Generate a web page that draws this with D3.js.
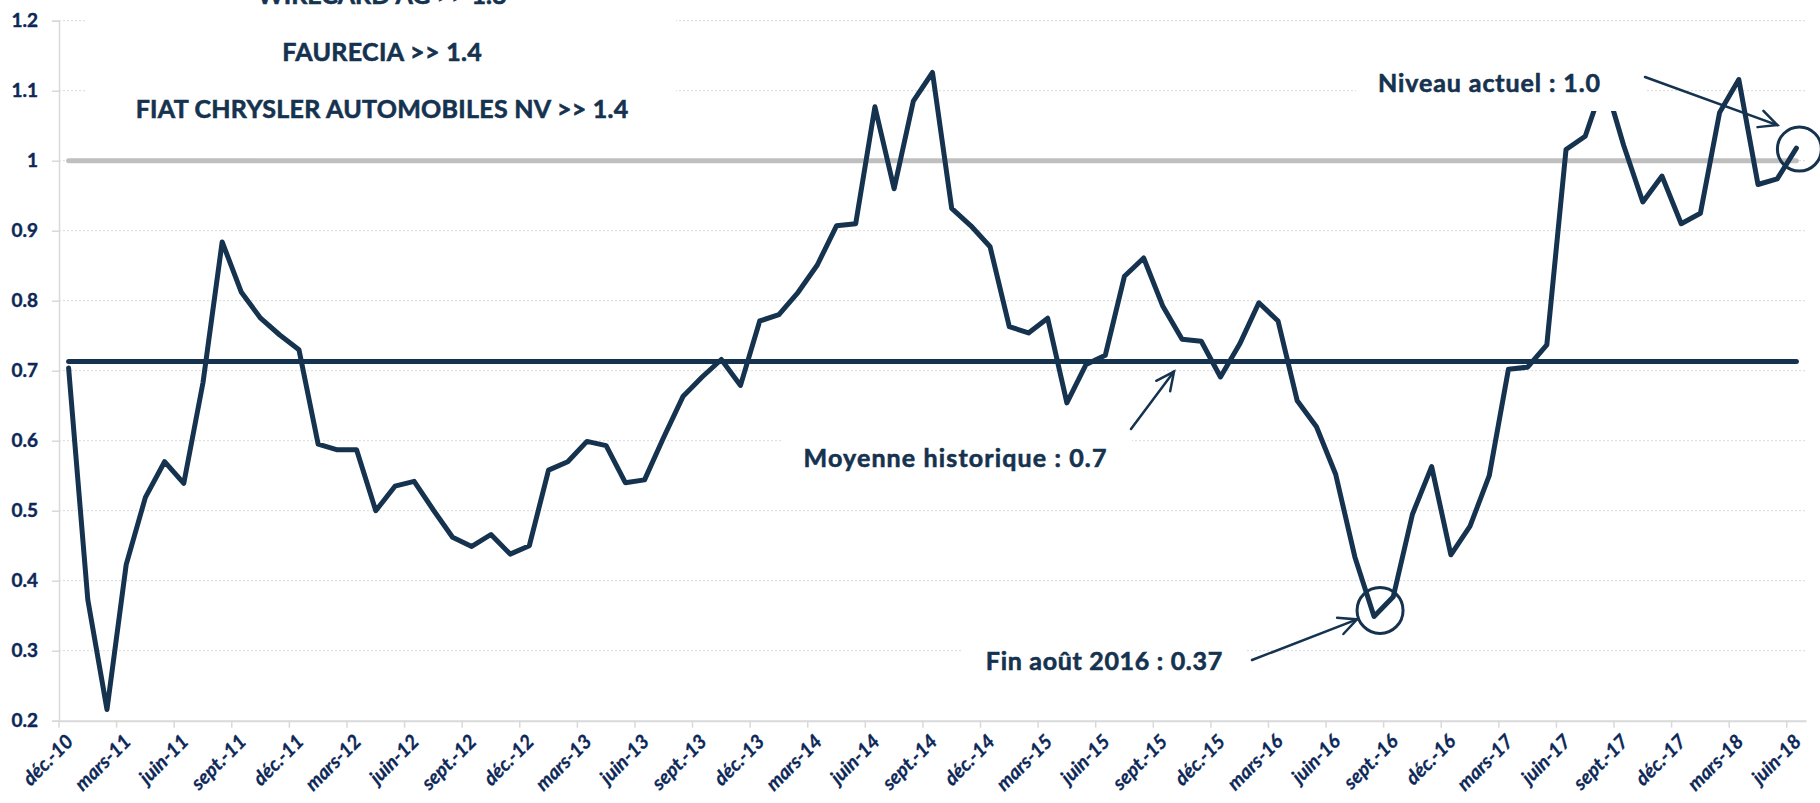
<!DOCTYPE html>
<html>
<head>
<meta charset="utf-8">
<script src="https://cdn.jsdelivr.net/npm/d3@7"></script>
<style>
  body { margin: 0; background: #fff; }
  svg { display: block; }
  text { font-family: Lato, "Open Sans", sans-serif; font-weight: 700; }
</style>
</head>
<body>
<div id="chart"></div>
<script>
// month names as Excel writes them in French (mmm-yy)
const monthNames = ["janv.", "févr.", "mars", "avr.", "mai", "juin", "juil.", "août", "sept.", "oct.", "nov.", "déc."];
const startMonth = 11, startYear = 10, nMonths = 91; // déc.-10 -> juin-18

// ratio, one value per month
const ratio = [
  0.704, 0.373, 0.216, 0.423, 0.519, 0.570, 0.539, 0.683, 0.884, 0.812,
  0.775, 0.751, 0.730, 0.595, 0.587, 0.587, 0.500, 0.535, 0.542, 0.501,
  0.462, 0.449, 0.466, 0.438, 0.450, 0.558, 0.570, 0.599, 0.593, 0.540,
  0.544, 0.605, 0.663, 0.691, 0.716, 0.679, 0.771, 0.780, 0.812, 0.851,
  0.907, 0.910, 1.077, 0.960, 1.085, 1.126, 0.932, 0.907, 0.877, 0.763,
  0.754, 0.775, 0.654, 0.709, 0.722, 0.835, 0.861, 0.792, 0.745, 0.742,
  0.691, 0.738, 0.797, 0.771, 0.657, 0.620, 0.552, 0.434, 0.349, 0.377,
  0.495, 0.563, 0.437, 0.478, 0.550, 0.702, 0.705, 0.737, 1.016, 1.035,
  1.115, 1.022, 0.941, 0.978, 0.910, 0.925, 1.069, 1.116, 0.966, 0.974,
  1.018
];

const historicalMean = 0.713;
const refLevel = 1.0;

const yTicks = [0.2, 0.3, 0.4, 0.5, 0.6, 0.7, 0.8, 0.9, 1.0, 1.1, 1.2];
const yTickLabels = ["0.2", "0.3", "0.4", "0.5", "0.6", "0.7", "0.8", "0.9", "1", "1.1", "1.2"];

const topLines = ["WIRECARD AG >> 1.8", "FAURECIA >> 1.4", "FIAT CHRYSLER AUTOMOBILES NV >> 1.4"];

// build the category labels
const categories = d3.range(nMonths).map(i => {
  const m = (startMonth + i) % 12;
  const yr = startYear + Math.floor((startMonth + i) / 12);
  return monthNames[m] + "-" + yr;
});

const width = 1820, height = 803;
const plotLeft = 59, plotRight = 1806, plotTop = 20.7, plotBottom = 720.7;
const navy = "#15324f", labelBlue = "#0d2858", gridGray = "#d9d9d9";

const svg = d3.select("#chart").append("svg")
  .attr("width", width)
  .attr("height", height);

const x = d3.scaleBand().domain(categories).range([plotLeft, plotRight]).padding(0);
const bw = x.bandwidth();
const cx = i => x(categories[i]) + bw / 2;

const y = d3.scaleLinear().domain([0.2, 1.2]).range([plotBottom, plotTop]);

// dotted gridlines
svg.append("g")
  .selectAll("line")
  .data(yTicks.slice(1))
  .join("line")
  .attr("x1", plotLeft).attr("x2", plotRight)
  .attr("y1", d => y(d)).attr("y2", d => y(d))
  .attr("stroke", gridGray)
  .attr("stroke-width", 1)
  .attr("stroke-dasharray", "2,2");

// y axis
const yAxis = svg.append("g")
  .attr("transform", `translate(${plotLeft},0)`)
  .call(d3.axisLeft(y).tickValues(yTicks).tickSize(7).tickPadding(14)
    .tickFormat((d, i) => yTickLabels[i]));
yAxis.select(".domain").attr("stroke", gridGray).attr("stroke-width", 1.5);
yAxis.selectAll(".tick line").attr("stroke", gridGray).attr("stroke-width", 1.5);
yAxis.selectAll(".tick text")
  .attr("fill", labelBlue)
  .attr("stroke", labelBlue).attr("stroke-width", 0.4)
  .style("font-size", "19px");

// x axis: ticks on category boundaries every 3 months, rotated labels
const every3 = categories.filter((c, i) => i % 3 === 0);
const xAxis = svg.append("g")
  .attr("transform", `translate(0,${plotBottom})`)
  .call(d3.axisBottom(x).tickValues(every3).tickSize(0).tickSizeOuter(0));
xAxis.select(".domain").attr("stroke", gridGray).attr("stroke-width", 2);
xAxis.selectAll(".tick").append("line")
  .attr("x1", -bw / 2).attr("x2", -bw / 2)
  .attr("y1", 0).attr("y2", 7)
  .attr("stroke", gridGray).attr("stroke-width", 1.5);
xAxis.selectAll(".tick text")
  .attr("fill", labelBlue)
  .attr("stroke", labelBlue).attr("stroke-width", 0.3)
  .attr("x", 0).attr("y", 0).attr("dy", 0)
  .attr("text-anchor", "end")
  .attr("transform", "translate(6,22) rotate(-45)")
  .style("font-size", "19.5px")
  .style("font-style", "italic");

// reference lines
const flat = v => d3.line().x(i => cx(i)).y(() => y(v))([0, nMonths - 1]);
svg.append("path")
  .attr("d", flat(refLevel))
  .attr("fill", "none")
  .attr("stroke", "#bfbfbf")
  .attr("stroke-width", 5)
  .attr("stroke-linecap", "round");

svg.append("path")
  .attr("d", flat(historicalMean))
  .attr("fill", "none")
  .attr("stroke", navy)
  .attr("stroke-width", 5)
  .attr("stroke-linecap", "round");

// main series
svg.append("path")
  .datum(ratio)
  .attr("fill", "none")
  .attr("stroke", navy)
  .attr("stroke-width", 5)
  .attr("stroke-linejoin", "round")
  .attr("stroke-linecap", "round")
  .attr("d", d3.line().x((d, i) => cx(i)).y(d => y(d)));

// ---- annotations ----
function textBox(x0, y0, x1, y1) {
  svg.append("rect")
    .attr("x", x0).attr("y", y0)
    .attr("width", x1 - x0).attr("height", y1 - y0)
    .attr("fill", "#fff");
}
// label centred on xc; if a width is given, spread the letters to reach it
function label(txt, xc, yb, w) {
  const t = svg.append("text")
    .attr("x", xc).attr("y", yb)
    .attr("text-anchor", "middle")
    .attr("fill", navy)
    .attr("stroke", navy).attr("stroke-width", 0.6)
    .style("font-size", "25px")
    .text(txt);
  if (w) {
    const ls = (w - t.node().getComputedTextLength()) / txt.length;
    t.style("letter-spacing", ls + "px").attr("x", xc + ls / 2);
  }
}
function arrow(x1, y1, x2, y2) {
  const a = Math.atan2(y2 - y1, x2 - x1), len = 20, spread = 0.45;
  const p = [
    [x2 - len * Math.cos(a - spread), y2 - len * Math.sin(a - spread)],
    [x2, y2],
    [x2 - len * Math.cos(a + spread), y2 - len * Math.sin(a + spread)]
  ];
  const g = svg.append("g")
    .attr("fill", "none").attr("stroke", navy)
    .attr("stroke-width", 2.5).attr("stroke-linecap", "round");
  g.append("line").attr("x1", x1).attr("y1", y1).attr("x2", x2).attr("y2", y2);
  g.append("path").attr("d", d3.line()(p));
}
function ring(xc, yc, r) {
  svg.append("circle")
    .attr("cx", xc).attr("cy", yc).attr("r", r)
    .attr("fill", "none").attr("stroke", navy).attr("stroke-width", 3);
}

// top-left list (first line runs off the top, as in the original)
textBox(85, -40, 676, 140);
label(topLines[0], 382, 4);
label(topLines[1], 382, 61, 200);
label(topLines[2], 382, 118, 493);

// current level
const last = nMonths - 1;
textBox(1356, 50, 1645, 111);
label("Niveau actuel : 1.0", 1489, 92, 223);
arrow(1645, 77, cx(last) - 19, y(ratio[last]) - 23);
ring(cx(last) + 3, y(ratio[last]) + 1, 22);

// historical mean
textBox(782, 425, 1132, 492);
label("Moyenne historique : 0.7", 955, 467, 304);
arrow(1131, 429, 1174, y(historicalMean) + 10);

// end of August 2016
const aug16 = categories.indexOf("août-16");
textBox(963, 628, 1245, 692);
label("Fin août 2016 : 0.37", 1104, 670, 237);
arrow(1252, 660, cx(aug16) - 17, y(ratio[aug16]) + 3);
ring(cx(aug16) + 6, y(ratio[aug16]) - 6, 23);
</script>
</body>
</html>
